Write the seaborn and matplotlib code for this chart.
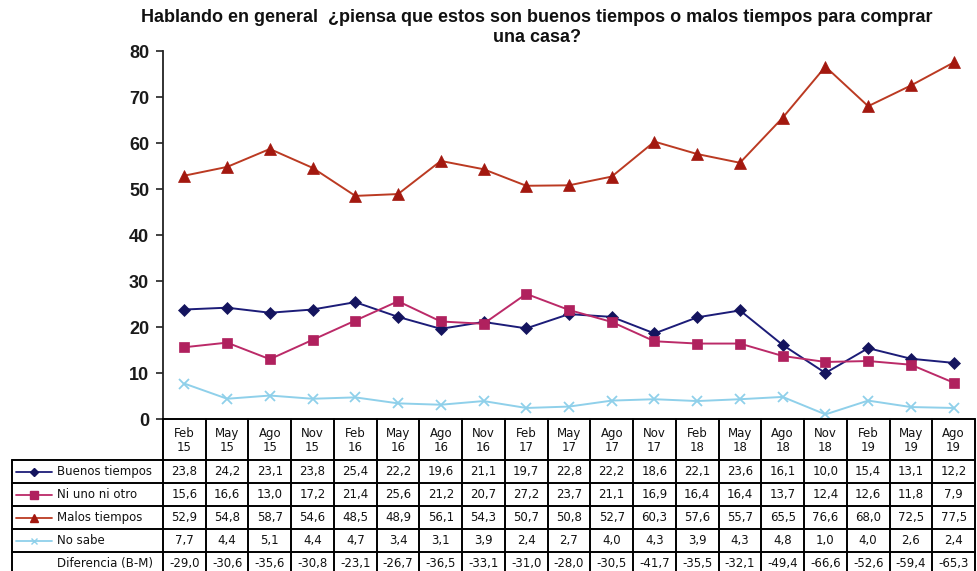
import matplotlib
matplotlib.use("Agg")
import matplotlib.pyplot as plt
import numpy as np
import pandas as pd
import seaborn as sns

periods = ["Feb\n15", "May\n15", "Ago\n15", "Nov\n15", "Feb\n16", "May\n16", "Ago\n16",
           "Nov\n16", "Feb\n17", "May\n17", "Ago\n17", "Nov\n17", "Feb\n18", "May\n18",
           "Ago\n18", "Nov\n18", "Feb\n19", "May\n19", "Ago\n19"]

buenos = [23.8, 24.2, 23.1, 23.8, 25.4, 22.2, 19.6, 21.1, 19.7, 22.8, 22.2, 18.6, 22.1, 23.6,
          16.1, 10.0, 15.4, 13.1, 12.2]
ni_uno = [15.6, 16.6, 13.0, 17.2, 21.4, 25.6, 21.2, 20.7, 27.2, 23.7, 21.1, 16.9, 16.4, 16.4,
          13.7, 12.4, 12.6, 11.8, 7.9]
malos = [52.9, 54.8, 58.7, 54.6, 48.5, 48.9, 56.1, 54.3, 50.7, 50.8, 52.7, 60.3, 57.6, 55.7,
         65.5, 76.6, 68.0, 72.5, 77.5]
no_sabe = [7.7, 4.4, 5.1, 4.4, 4.7, 3.4, 3.1, 3.9, 2.4, 2.7, 4.0, 4.3, 3.9, 4.3,
           4.8, 1.0, 4.0, 2.6, 2.4]
diferencia = ["-29,0", "-30,6", "-35,6", "-30,8", "-23,1", "-26,7", "-36,5", "-33,1", "-31,0",
              "-28,0", "-30,5", "-41,7", "-35,5", "-32,1", "-49,4", "-66,6", "-52,6", "-59,4",
              "-65,3"]

series_names = ["Buenos tiempos", "Ni uno ni otro", "Malos tiempos", "No sabe"]
series_values = [buenos, ni_uno, malos, no_sabe]
line_colors = ["#1c1c78", "#bb2a68", "#bb3a22", "#8fd0ea"]
marker_colors = ["#14145e", "#b0215e", "#a3180f", "#8fd0ea"]
markers = ["D", "s", "^", "x"]
msizes = [6, 7.5, 8, 7]

W, H = 978, 571
fig = plt.figure(figsize=(W / 100, H / 100), dpi=100)
sns.set_style("white")
plt.rcParams["font.family"] = ["Liberation Sans", "DejaVu Sans"]

# pixel geometry
x_left, x_right = 163, 975
y_top, y_zero = 51, 419
n = len(periods)

ax = fig.add_axes([x_left / W, 1 - y_zero / H, (x_right - x_left) / W, (y_zero - y_top) / H])

for name, vals, c, mc, mk, ms in zip(series_names, series_values, line_colors, marker_colors,
                                     markers, msizes):
    d = pd.DataFrame({"idx": np.arange(n), "valor": vals})
    sns.lineplot(data=d, x="idx", y="valor", color=c, marker=mk, markersize=ms,
                 markerfacecolor=mc, markeredgecolor=mc,
                 markeredgewidth=1.3 if mk == "x" else 0.5,
                 linewidth=1.4, ax=ax, clip_on=False)

ax.set_xlim(-0.5, n - 0.5)
ax.set_ylim(0, 80)
ax.set_yticks(range(0, 81, 10))
ax.set_yticklabels([str(v) for v in range(0, 81, 10)], fontsize=13, fontweight="bold",
                   color="#1a1a1a")
ax.set_xticks([])
ax.set_xlabel("")
ax.set_ylabel("")
for s in ["top", "right", "bottom"]:
    ax.spines[s].set_visible(False)
ax.spines["left"].set_color("#222222")
ax.spines["left"].set_linewidth(1.3)
ax.tick_params(axis="y", length=5, width=1.2, color="#222222", direction="out", pad=5, left=True)
ax.patch.set_alpha(0)

tfam = ["Liberation Sans Narrow", "Liberation Sans", "DejaVu Sans"]
fig.text(537 / W, 1 - 18 / H, "Hablando en general  ¿piensa que estos son buenos tiempos o malos tiempos para comprar",
         ha="center", va="center", fontsize=13, fontweight="bold", family=tfam,
         color="#111111")
fig.text(537 / W, 1 - 37 / H, "una casa?", ha="center", va="center", fontsize=13,
         fontweight="bold", family=tfam, color="#111111")

# data table beneath the chart, sharing the column positions
tax = fig.add_axes([x_left / W, 0, (x_right - x_left) / W, (H - y_zero) / H])
tax.set_xlim(-0.5, n - 0.5)
tax.set_ylim(H - y_zero, 0)
tax.axis("off")
unit = (x_right - x_left) / n
label_left = -0.5 - (x_left - 12) / unit

row_edges = [0, 41, 64, 87, 110, 133, 156]
kw = dict(color="black", lw=1.4, clip_on=False)
for j in range(n + 1):
    tax.plot([j - 0.5, j - 0.5], [0, row_edges[-1]], **kw)
tax.plot([label_left, label_left], [row_edges[1], row_edges[-1]], **kw)
tax.plot([-0.5, n - 0.5], [0, 0], **kw)
for y in row_edges[1:]:
    tax.plot([label_left, n - 0.5], [y, y], **kw)

tfont = ["DejaVu Sans"]
fs = 8.5
for j, p in enumerate(periods):
    tax.text(j, row_edges[1] / 2 + 1, p, ha="center", va="center", fontsize=fs,
             family=tfont, linespacing=1.05, color="#111111")

table_rows = [[f"{v:.1f}".replace(".", ",") for v in vals] for vals in series_values] + [diferencia]
row_labels = series_names + ["Diferencia (B-M)"]
for r, (lab, vals) in enumerate(zip(row_labels, table_rows)):
    yc = (row_edges[r + 1] + row_edges[r + 2]) / 2
    for j, v in enumerate(vals):
        tax.text(j, yc, v, ha="center", va="center", fontsize=fs, family=tfont,
                 color="#111111")
    tax.text(label_left + 45 / unit, yc, lab, ha="left", va="center", fontsize=fs,
             family=tfont, clip_on=False, color="#111111")
    if r < 4:
        x0 = label_left + 4 / unit
        x1 = label_left + 40 / unit
        tax.plot([x0, x1], [yc, yc], color=line_colors[r], lw=1.3, clip_on=False)
        tax.plot([(x0 + x1) / 2], [yc], marker=markers[r], color=marker_colors[r],
                 markersize=msizes[r] - 2, clip_on=False)

fig.savefig("out.png", dpi=100)
